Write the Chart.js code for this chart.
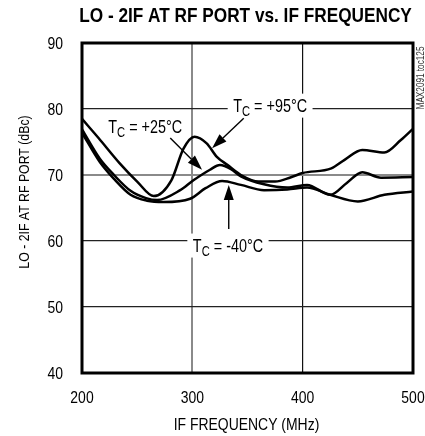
<!DOCTYPE html>
<html>
<head>
<meta charset="utf-8">
<script src="https://cdn.jsdelivr.net/npm/chart.js@4.4.1/dist/chart.umd.min.js"></script>
<style>
  html, body { margin: 0; padding: 0; background: #fff; overflow: hidden; }
  canvas { display: block; }
</style>
</head>
<body>
<canvas id="chart" width="425" height="436"></canvas>
<script>
// -----------------------
// DATA
// -----------------------

const xTicks = [200, 300, 400, 500];
const yTicks = [40, 50, 60, 70, 80, 90];

// TC = +95°C
const hotFreq = [200, 215, 234, 250, 265, 281, 292, 302, 313, 322, 332, 344, 360, 375, 390, 400, 426, 438, 454, 474, 489, 500];
const hotDbc  = [78.5, 75.6, 71.8, 69.0, 66.8, 69.2, 74.0, 75.8, 74.8, 72.8, 71.5, 70.0, 69.0, 69.0, 69.7, 70.3, 71.0, 72.3, 73.8, 73.4, 75.3, 77.0];

// TC = +25°C
const roomFreq = [200, 216, 229, 244, 258, 268, 289, 301, 316, 325, 335, 344, 365, 386, 404, 425, 440, 454, 471, 500];
const roomDbc  = [76.9, 72.5, 70.0, 67.6, 66.5, 66.2, 67.7, 69.2, 70.8, 71.5, 70.9, 69.8, 68.6, 68.1, 68.5, 67.0, 68.8, 70.4, 69.6, 69.7];

// TC = -40°C
const coldFreq = [200, 216, 229, 244, 259, 274, 298, 312, 327, 344, 365, 386, 404, 425, 450, 474, 500];
const coldDbc  = [76.4, 72.0, 69.4, 67.0, 66.1, 65.9, 66.4, 68.0, 69.1, 68.5, 67.7, 67.8, 68.1, 67.0, 66.0, 67.0, 67.5];

// -----------------------
// TEXT / ANNOTATIONS
// -----------------------

const FONT = "'Liberation Sans', Arial, sans-serif";
const SQUEEZE = 0.82;   // no condensed face installed, so text is fitted narrower

const titleText = 'LO - 2IF AT RF PORT vs. IF FREQUENCY';
const xTitle = 'IF FREQUENCY (MHz)';
const yTitle = 'LO - 2IF AT RF PORT (dBc)';
const tocText = 'MAX2091 toc125';

// label positions in data units (x = MHz, y = dBc at text baseline)
const notes = [
  { rest: ' = +95°C', x: 370.5, y: 79.6, box: true },
  { rest: ' = +25°C', x: 257.3, y: 76.3, box: false },
  { rest: ' = -40°C', x: 332.3, y: 58.4, box: true }
];

const arrows = [
  { x0: 346.6, y0: 78.6, x1: 317.9, y1: 74.05 },
  { x0: 280.0, y0: 75.6, x1: 308.8, y1: 70.8 },
  { x0: 333.0, y0: 61.8, x1: 333.0, y1: 68.5 }
];

function setFont(ctx, size, bold) {
  ctx.font = (bold ? 'bold ' : '') + size + 'px ' + FONT;
}

// natural width of a string, times the squeeze
function textWidth(ctx, str, size, sx, bold) {
  setFont(ctx, size, bold);
  return ctx.measureText(str).width * (sx || SQUEEZE);
}

// horizontal text, narrowed through fillText's maxWidth
function drawText(ctx, str, x, y, size, opts) {
  opts = opts || {};
  const w = textWidth(ctx, str, size, opts.sx, opts.bold);
  ctx.fillStyle = opts.color || '#000';
  ctx.textAlign = opts.align || 'left';
  ctx.textBaseline = 'alphabetic';
  ctx.fillText(str, x, y, w);
  return w;
}

// vertical text reading bottom to top
function drawVText(ctx, str, x, y, size, color) {
  ctx.save();
  setFont(ctx, size);
  const w = ctx.measureText(str).width * SQUEEZE;
  ctx.fillStyle = color || '#000';
  ctx.textAlign = 'center';
  ctx.textBaseline = 'alphabetic';
  ctx.translate(x, y);
  ctx.rotate(-Math.PI / 2);
  ctx.fillText(str, 0, 0, w);
  ctx.restore();
}

// -----------------------
// PLUGIN: frame, labels, arrows, axis text
// -----------------------

const decor = {
  id: 'decor',
  afterDraw(chart) {
    const { ctx, chartArea: a, scales: { x, y } } = chart;
    ctx.save();

    // vertical texts
    drawVText(ctx, yTitle, 28.5, 192, 15);
    drawVText(ctx, tocText, 423.5, 78, 10, '#333');

    // curve labels (T with subscript C)
    notes.forEach(n => {
      const px = x.getPixelForValue(n.x);
      const py = y.getPixelForValue(n.y);
      const wT = textWidth(ctx, 'T', 18, 0.8);
      const wS = textWidth(ctx, 'C', 14, 0.8);
      const wR = textWidth(ctx, n.rest, 18, 0.8);
      const w = wT + wS + wR;
      const left = px - w / 2;
      if (n.box) {
        ctx.fillStyle = '#fff';
        ctx.fillRect(left - 5.5, py - 18, w + 11, 24);
      }
      drawText(ctx, 'T', left, py, 18, { sx: 0.8 });
      drawText(ctx, 'C', left + wT, py + 4, 14, { sx: 0.8 });
      drawText(ctx, n.rest, left + wT + wS, py, 18, { sx: 0.8 });
    });

    // arrows
    arrows.forEach(ar => {
      const x0 = x.getPixelForValue(ar.x0), y0 = y.getPixelForValue(ar.y0);
      const x1 = x.getPixelForValue(ar.x1), y1 = y.getPixelForValue(ar.y1);
      const ang = Math.atan2(y1 - y0, x1 - x0);
      const len = 15, half = 5;
      const bx = x1 - len * Math.cos(ang), by = y1 - len * Math.sin(ang);
      ctx.strokeStyle = '#000';
      ctx.lineWidth = 1.4;
      ctx.beginPath();
      ctx.moveTo(x0, y0);
      ctx.lineTo(bx, by);
      ctx.stroke();
      ctx.fillStyle = '#000';
      ctx.beginPath();
      ctx.moveTo(x1, y1);
      ctx.lineTo(bx + half * Math.sin(ang), by - half * Math.cos(ang));
      ctx.lineTo(bx - half * Math.sin(ang), by + half * Math.cos(ang));
      ctx.closePath();
      ctx.fill();
    });

    // plot frame
    ctx.strokeStyle = '#000';
    ctx.lineWidth = 3;
    ctx.strokeRect(a.left, a.top, a.right - a.left, a.bottom - a.top);

    // tick labels
    yTicks.forEach(v => {
      drawText(ctx, String(v), a.left - 19, y.getPixelForValue(v) + 6, 17, { align: 'right' });
    });
    xTicks.forEach(v => {
      drawText(ctx, String(v), x.getPixelForValue(v), a.bottom + 30, 17, { align: 'center' });
    });

    // titles
    const cx = (a.left + a.right) / 2;
    drawText(ctx, titleText, cx - 2, 22, 21, { bold: true, align: 'center' });
    drawText(ctx, xTitle, cx - 1, 430, 17, { align: 'center' });

    ctx.restore();
  }
};

// -----------------------
// CHART
// -----------------------

const toPoints = (fs, vs) => fs.map((f, i) => ({ x: f, y: vs[i] }));

const lineStyle = {
  borderColor: '#000',
  borderWidth: 2.5,
  pointRadius: 0,
  fill: false,
  cubicInterpolationMode: 'monotone'
};

new Chart(document.getElementById('chart'), {
  type: 'line',
  data: {
    datasets: [
      { label: 'TC = +95°C', data: toPoints(hotFreq, hotDbc), ...lineStyle },
      { label: 'TC = +25°C', data: toPoints(roomFreq, roomDbc), ...lineStyle },
      { label: 'TC = -40°C', data: toPoints(coldFreq, coldDbc), ...lineStyle }
    ]
  },
  options: {
    responsive: false,
    devicePixelRatio: 1,
    animation: false,
    events: [],
    layout: { padding: { top: 43, right: 12, left: 0, bottom: 0 } },
    plugins: {
      legend: { display: false },
      tooltip: { enabled: false },
      title: { display: false }
    },
    scales: {
      x: {
        type: 'linear',
        min: xTicks[0],
        max: xTicks[xTicks.length - 1],
        afterBuildTicks: s => { s.ticks = xTicks.map(v => ({ value: v })); },
        afterFit: s => { s.height = 63; },
        border: { display: false },
        grid: {
          drawTicks: false,
          color: c => c.tick && c.tick.value === 300 ? '#8a8a8a' : (c.tick && c.tick.value === 400 ? '#111' : 'rgba(0,0,0,0)'),
          lineWidth: c => c.tick && c.tick.value === 300 ? 2 : 1.2
        },
        ticks: { display: false }
      },
      y: {
        min: yTicks[0],
        max: yTicks[yTicks.length - 1],
        afterBuildTicks: s => { s.ticks = yTicks.map(v => ({ value: v })); },
        afterFit: s => { s.width = 82; },
        border: { display: false },
        grid: {
          drawTicks: false,
          color: c => {
            const v = c.tick && c.tick.value;
            if (v === 70) return '#8a8a8a';
            if (v === 50 || v === 60 || v === 80) return '#222';
            return 'rgba(0,0,0,0)';
          },
          lineWidth: c => c.tick && c.tick.value === 70 ? 2 : 1.2
        },
        ticks: { display: false }
      }
    }
  },
  plugins: [decor]
});
</script>
</body>
</html>
